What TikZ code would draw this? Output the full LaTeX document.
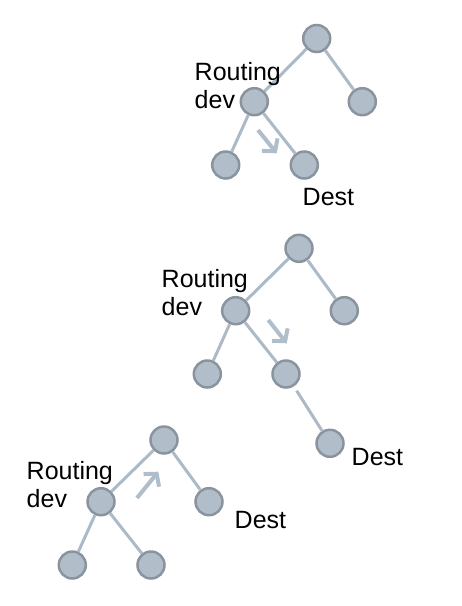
\documentclass[tikz,border=0pt]{standalone}
\usepackage{fontspec}
\setmainfont{Liberation Sans}
\usetikzlibrary{arrows.meta}
\definecolor{nodefill}{RGB}{177,190,202}
\definecolor{nodeedge}{RGB}{138,148,158}
\definecolor{linkcol}{RGB}{172,186,199}
\definecolor{arrcol}{RGB}{176,190,203}
\begin{document}
\begin{tikzpicture}[x=1pt,y=-1pt,
  dev/.style={circle,draw=nodeedge,fill=nodefill,line width=2.5pt,minimum size=27pt,inner sep=0pt},
  link/.style={draw=linkcol,line width=3pt},
  flow/.style={draw=arrcol,line width=4pt,-{Straight Barb[length=8.5pt,width=20pt]}},
  lbl/.style={inner sep=0pt,align=left,font=\fontsize{25}{28}\selectfont,text=black}]
\useasboundingbox (0,0) rectangle (462,606);
% Tree 1
\node[dev] (a1) at (316.7,38.5) {};
\node[dev] (b1) at (254.3,101.7) {};
\node[dev] (c1) at (362.3,101.7) {};
\node[dev] (d1) at (225.7,165) {};
\node[dev] (e1) at (304.3,165) {};
\draw[link] (a1) -- (b1);
\draw[link] (a1) -- (c1);
\draw[link] (b1) -- (d1);
\draw[link] (b1) -- (e1);
\node[lbl,anchor=north west] (r1) at (194.5,62) {Routing\\dev};
\node[lbl,anchor=north west] (t1) at (302.5,188) {Dest};
\coordinate (s1) at (258,130);
\coordinate (f1) at (276.7,153.3);
\draw[flow] (s1) -- (f1);
% Tree 2
\node[dev] (a2) at (299,248.3) {};
\node[dev] (b2) at (235.7,310.7) {};
\node[dev] (c2) at (344.3,310.7) {};
\node[dev] (d2) at (207.3,374) {};
\node[dev] (e2) at (286,374) {};
\node[dev] (g2) at (330,443.3) {};
\draw[link] (a2) -- (b2);
\draw[link] (a2) -- (c2);
\draw[link] (b2) -- (d2);
\draw[link] (b2) -- (e2);
\draw[link,shorten <=5pt] (e2) -- (g2);
\node[lbl,anchor=north west] (r2) at (161.5,269.5) {Routing\\dev};
\node[lbl,anchor=north west] (t2) at (351.5,448.5) {Dest};
\coordinate (s2) at (268.3,320);
\coordinate (f2) at (286.7,343.3);
\draw[flow] (s2) -- (f2);
% Tree 3
\node[dev] (a3) at (164,440) {};
\node[dev] (b3) at (101,501.7) {};
\node[dev] (c3) at (209,501.7) {};
\node[dev] (d3) at (72.3,565) {};
\node[dev] (e3) at (151,565) {};
\draw[link] (a3) -- (b3);
\draw[link] (a3) -- (c3);
\draw[link] (b3) -- (d3);
\draw[link] (b3) -- (e3);
\node[lbl,anchor=north west] (r3) at (26.5,461.2) {Routing\\dev};
\node[lbl,anchor=north west] (t3) at (234.5,511.2) {Dest};
\coordinate (s3) at (137,498);
\coordinate (f3) at (158.3,471.7);
\draw[flow] (s3) -- (f3);
\end{tikzpicture}
\end{document}
